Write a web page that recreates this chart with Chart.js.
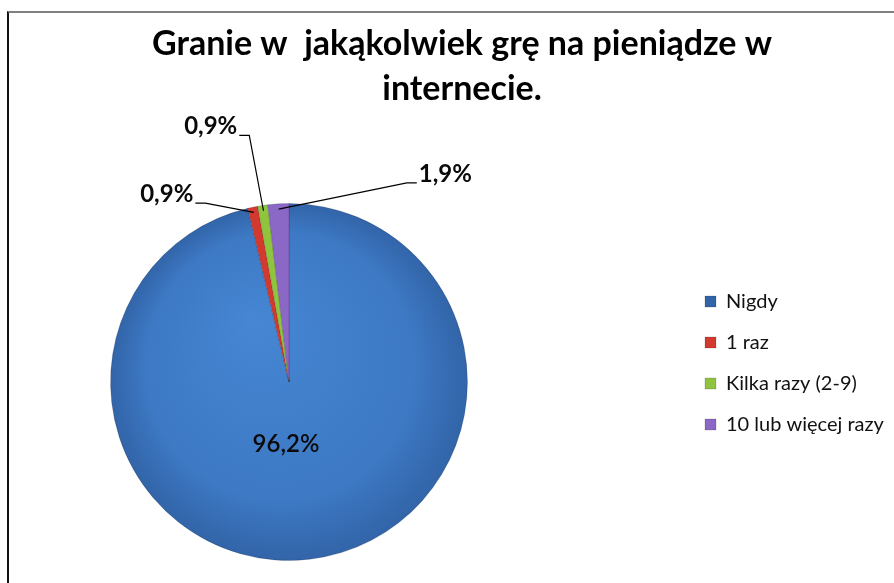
<!DOCTYPE html>
<html>
<head>
<meta charset="utf-8">
<script src="https://cdn.jsdelivr.net/npm/chart.js@4/dist/chart.umd.min.js"></script>
<style>
  body { margin: 0; background: #fff; }
  #box { position: relative; width: 894px; height: 583px; overflow: hidden; }
  #frame { position: absolute; left: 7px; top: 11px; width: 900px; height: 600px;
           border-left: 2px solid #111; border-top: 2px solid #808080; }
  #myChart { position: absolute; left: 0; top: 0; }
</style>
</head>
<body>
<div id="box">
  <div id="frame"></div>
  <canvas id="myChart" width="894" height="583"></canvas>
</div>
<script>
// answers
var categories = ['Nigdy', '1 raz', 'Kilka razy (2-9)', '10 lub więcej razy'];
// share of answers, percent
var shares = [96.2, 0.9, 0.9, 1.9];
var chartTitle = ['Granie w  jakąkolwiek grę na pieniądze w', 'internecie.'];

var colors = ['#3F7CC8', '#D3392F', '#8FC43F', '#8B68C6'];

// where each percent label goes: inside (offset from the centre)
// or outside with a leader line (offset from the slice edge)
var labelSpots = [
  { inside: true, dx: -3, dy: 62 },
  { dx: -86, dy: -13 },
  { dx: -52, dy: -79 },
  { dx: 167, dy: -30 }
];

// legend sits far to the right of the pie, like in Excel
var LEGEND_W = 346;
var LEGEND_DX = 136;
var LEGEND_DY = -19;

function fmt(v) {
  return v.toFixed(1).replace('.', ',') + '%';
}

function sliceColor(c) {
  var i = c.dataIndex;
  var area = c.chart.chartArea;
  if (i !== 0 || !area) return colors[i];
  var cx = (area.left + area.right) / 2, cy = (area.top + area.bottom) / 2;
  var r = Math.min(area.right - area.left, area.bottom - area.top) / 2;
  var g = c.chart.ctx.createRadialGradient(cx - r * 0.2, cy - r * 0.35, 0, cx, cy, r);
  g.addColorStop(0, '#4686D3');
  g.addColorStop(0.75, '#3D79C4');
  g.addColorStop(1, '#3264A8');
  return g;
}

var legendSpot = {
  id: 'legendSpot',
  afterInit: function (chart) {
    var lg = chart.legend, fit = lg.fit;
    lg.fit = function () { fit.call(lg); lg.width = LEGEND_W; };
  },
  afterLayout: function (chart) {
    var lg = chart.legend;
    lg.left += LEGEND_DX; lg.right += LEGEND_DX;
    lg.top += LEGEND_DY; lg.bottom += LEGEND_DY;
  }
};

var percentLabels = {
  id: 'percentLabels',
  afterDatasetsDraw: function (chart) {
    var ctx = chart.ctx;
    var arcs = chart.getDatasetMeta(0).data;
    ctx.save();
    ctx.textAlign = 'center';
    ctx.textBaseline = 'middle';
    arcs.forEach(function (arc, i) {
      var spot = labelSpots[i];
      var text = fmt(shares[i]);
      var mid = (arc.startAngle + arc.endAngle) / 2;
      if (spot.inside) {
        ctx.font = '600 24px Lato';
        ctx.fillStyle = '#0a0a0a';
        ctx.fillText(text, arc.x + spot.dx, arc.y + spot.dy);
        return;
      }
      var ox = arc.x + Math.cos(mid) * arc.outerRadius;
      var oy = arc.y + Math.sin(mid) * arc.outerRadius;
      var ex = arc.x + Math.cos(mid) * arc.outerRadius * 0.97;
      var ey = arc.y + Math.sin(mid) * arc.outerRadius * 0.97;
      var tx = ox + spot.dx, ty = oy + spot.dy;
      ctx.font = 'bold 24px Lato';
      var w = ctx.measureText(text).width;
      var sx = spot.dx < 0 ? tx + w / 2 + 2 : tx - w / 2 - 2;
      var sy = ty + 9;
      var kx = spot.dx < 0 ? sx + 10 : sx - 10;
      ctx.strokeStyle = '#000';
      ctx.lineWidth = 1.2;
      ctx.beginPath();
      ctx.moveTo(sx, sy);
      ctx.lineTo(kx, sy);
      ctx.lineTo(ex, ey);
      ctx.stroke();
      ctx.fillStyle = '#0a0a0a';
      ctx.fillText(text, tx, ty);
    });
    ctx.restore();
  }
};

var ctx = document.getElementById('myChart');
var myChart = new Chart(ctx, {
  type: 'pie',
  data: {
    labels: categories,
    datasets: [{
      data: shares,
      backgroundColor: sliceColor,
      borderColor: 'rgba(0,0,0,0.15)',
      borderWidth: 1
    }]
  },
  options: {
    responsive: false,
    animation: false,
    devicePixelRatio: 1,
    layout: { padding: { left: 30, right: 0, top: 0, bottom: 22 } },
    plugins: {
      title: {
        display: true,
        text: chartTitle,
        color: '#000',
        font: { family: 'Lato', size: 34, weight: 'bold', lineHeight: 45 / 34 },
        padding: { top: 22, bottom: 91 }
      },
      legend: {
        position: 'right',
        fullSize: false,
        labels: {
          boxWidth: 11,
          boxHeight: 11,
          padding: 21,
          color: '#111',
          font: { family: 'Lato', size: 20 }
        }
      },
      tooltip: { enabled: false }
    }
  },
  plugins: [legendSpot, percentLabels]
});
</script>
</body>
</html>
